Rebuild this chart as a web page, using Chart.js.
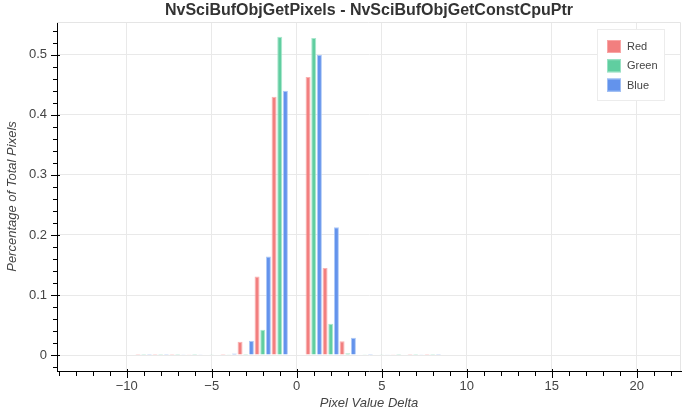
<!doctype html>
<html>

<head>
    <title>NvSciBufObjGetPixels</title>
    <script src="https://cdn.jsdelivr.net/npm/chart.js"></script>
    <style>
        body { margin: 0; background: #fff; }
        #wrap { width: 690px; height: 416px; }
    </style>
</head>

<body>
    <div id="wrap">
        <canvas id="histograma"></canvas>
    </div>

    <script>
        // pixel value delta (0 is not plotted)
        const deltas = [-9, -8, -7, -6, -5, -4, -3, -2, -1, 1, 2, 3, 4, 5, 6, 7, 8]
        const red   = [0.0002, 0.0002, 0.0003, 0.0005, 0.001, 0.002, 0.022, 0.131, 0.430, 0.463, 0.145, 0.023, 0.001, 0.001, 0.0005, 0.0003, 0.0002]
        const green = [0.0001, 0.0002, 0.0002, 0.0003, 0.0005, 0.0005, 0.002, 0.042, 0.530, 0.528, 0.052, 0.003, 0.0005, 0.0005, 0.0003, 0.0002, 0.0001]
        const blue  = [0.0002, 0.0003, 0.0004, 0.0006, 0.001, 0.0025, 0.024, 0.164, 0.440, 0.500, 0.213, 0.029, 0.002, 0.0015, 0.0008, 0.0004, 0.0002]

        const xTicks = [-10, -5, 0, 5, 10, 15, 20]
        const yTicks = [0, 0.1, 0.2, 0.3, 0.4, 0.5]

        const fonte = "'Liberation Sans', Helvetica, Arial, sans-serif"

        const series = [
            { label: 'Red', values: red, fill: '#f27f7f', line: 'rgba(250,170,170,0.9)' },
            { label: 'Green', values: green, fill: '#60cea0', line: 'rgba(160,228,200,0.9)' },
            { label: 'Blue', values: blue, fill: '#6393ec', line: 'rgba(165,195,245,0.9)' }
        ]

        // light frame on top and right of the plot
        const moldura = {
            id: 'moldura',
            beforeDatasetsDraw(chart) {
                const { ctx, chartArea: { top, bottom, left, right } } = chart
                ctx.save()
                ctx.strokeStyle = '#e5e5e5'
                ctx.lineWidth = 1
                ctx.beginPath()
                ctx.moveTo(left, top + 0.5)
                ctx.lineTo(right - 0.5, top + 0.5)
                ctx.lineTo(right - 0.5, bottom)
                ctx.stroke()
                ctx.restore()
            }
        }

        // major ticks (in 2, out 6) and minor ticks (out 4)
        const marcas = {
            id: 'marcas',
            afterDraw(chart) {
                const { ctx, chartArea: { top, bottom, left, right }, scales: { x, y } } = chart
                ctx.save()
                ctx.strokeStyle = '#000'
                ctx.lineWidth = 1
                ctx.beginPath()
                for (let v = Math.ceil(x.min); v <= x.max; v++) {
                    const px = Math.round(x.getPixelForValue(v)) + 0.5
                    const major = xTicks.includes(v)
                    ctx.moveTo(px, bottom - (major ? 2 : 0))
                    ctx.lineTo(px, bottom + (major ? 7 : 5))
                }
                for (let k = Math.ceil(y.min / 0.02); k * 0.02 <= y.max; k++) {
                    const v = k * 0.02
                    const py = Math.round(y.getPixelForValue(v)) + 0.5
                    const major = k % 5 === 0
                    ctx.moveTo(left + (major ? 3 : 1), py)
                    ctx.lineTo(left - (major ? 6 : 4), py)
                }
                ctx.stroke()
                ctx.restore()
            }
        }

        // legend box inside the plot, top right
        const legenda = {
            id: 'legenda',
            afterDraw(chart) {
                const { ctx } = chart
                const bx = 597, by = 29, bw = 68, bh = 72
                ctx.save()
                ctx.fillStyle = '#fff'
                ctx.fillRect(bx, by, bw, bh)
                ctx.strokeStyle = '#ececec'
                ctx.strokeRect(bx + 0.5, by + 0.5, bw - 1, bh - 1)
                ctx.font = '11px ' + fonte
                ctx.textBaseline = 'middle'
                chart.data.datasets.forEach((ds, i) => {
                    const sy = 40 + i * 19.3
                    ctx.fillStyle = ds.backgroundColor
                    ctx.fillRect(607, sy, 14, 13)
                    ctx.strokeStyle = ds.borderColor
                    ctx.strokeRect(607.5, sy + 0.5, 13, 12)
                    ctx.fillStyle = '#444'
                    ctx.fillText(ds.label, 627, sy + 7)
                })
                ctx.restore()
            }
        }

        const grafico = new Chart(document.getElementById('histograma').getContext('2d'), {
            type: 'bar',
            data: {
                datasets: series.map(s => ({
                    label: s.label,
                    data: deltas.map((d, i) => ({ x: d, y: s.values[i] })),
                    backgroundColor: s.fill,
                    borderColor: s.line,
                    borderWidth: 1,
                    categoryPercentage: 1.0,
                    barPercentage: 0.88
                }))
            },
            options: {
                responsive: true,
                maintainAspectRatio: false,
                animation: false,
                layout: { padding: { left: 0, right: 9, top: 0, bottom: 0 } },
                plugins: {
                    legend: { display: false },
                    tooltip: { enabled: false },
                    title: {
                        display: true,
                        fullSize: false,
                        text: 'NvSciBufObjGetPixels - NvSciBufObjGetConstCpuPtr',
                        color: '#333',
                        font: { family: fonte, size: 16, weight: 'bold', lineHeight: 1.125 },
                        padding: { top: 2, bottom: 2 }
                    }
                },
                scales: {
                    x: {
                        type: 'linear',
                        min: -14.1,
                        max: 22.6,
                        offset: false,
                        afterFit(scale) { scale.height = 45 },
                        afterBuildTicks(scale) { scale.ticks = xTicks.map(v => ({ value: v })) },
                        grid: { color: '#e9e9e9', drawTicks: false, offset: false },
                        border: { display: true, color: '#000' },
                        ticks: {
                            color: '#444',
                            padding: 8,
                            maxRotation: 0,
                            font: { family: fonte, size: 13 },
                            callback: v => (v < 0 ? '\u2212' + Math.abs(v) : String(v))
                        },
                        title: {
                            display: true,
                            text: 'Pixel Value Delta',
                            color: '#444',
                            font: { family: fonte, size: 13, style: 'italic' },
                            padding: { top: 0, bottom: 5 }
                        }
                    },
                    y: {
                        min: -0.0265,
                        max: 0.5546,
                        afterFit(scale) { scale.width = 57 },
                        afterBuildTicks(scale) { scale.ticks = yTicks.map(v => ({ value: v })) },
                        grid: { color: '#e9e9e9', drawTicks: false },
                        border: { display: true, color: '#000' },
                        ticks: {
                            color: '#444',
                            padding: 10,
                            font: { family: fonte, size: 13 },
                            callback: v => String(Math.round(v * 10) / 10)
                        },
                        title: {
                            display: true,
                            text: 'Percentage of Total Pixels',
                            color: '#444',
                            font: { family: fonte, size: 13, style: 'italic' },
                            padding: { top: 5, bottom: 0 }
                        }
                    }
                }
            },
            plugins: [moldura, marcas, legenda]
        });
    </script>
</body>

</html>
